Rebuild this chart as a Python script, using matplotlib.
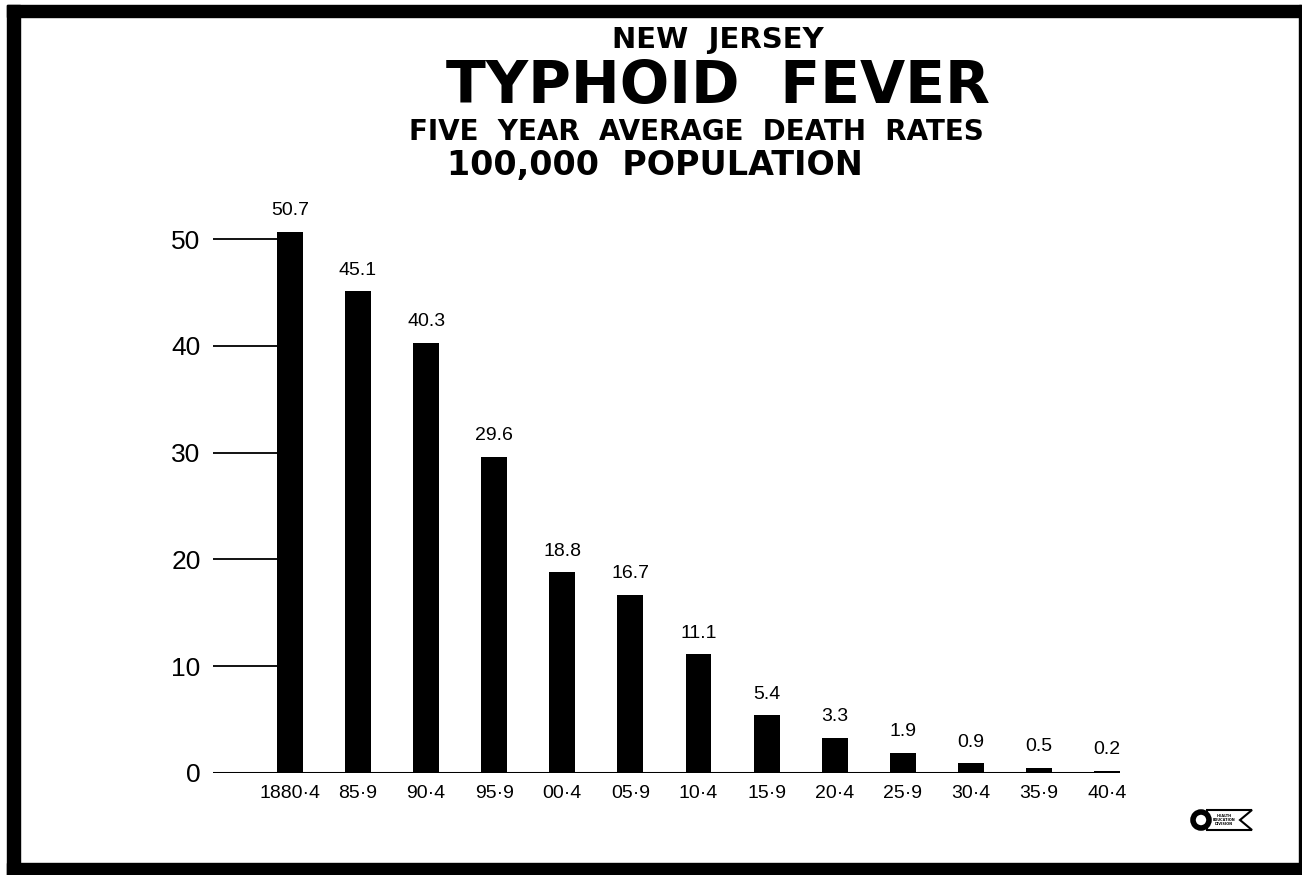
import matplotlib.pyplot as plt
from matplotlib.patches import Rectangle, Ellipse, Polygon

periods = ['1880·4', '85·9', '90·4', '95·9', '00·4', '05·9', '10·4',
           '15·9', '20·4', '25·9', '30·4', '35·9', '40·4']
rates = [50.7, 45.1, 40.3, 29.6, 18.8, 16.7, 11.1, 5.4, 3.3, 1.9, 0.9, 0.5, 0.2]
rate_labels = ['50.7', '45.1', '40.3', '29.6', '18.8', '16.7', '11.1',
               '5.4', '3.3', '1.9', '0.9', '0.5', '0.2']
yticks = [0, 10, 20, 30, 40, 50]

W, H = 1302, 875
fig = plt.figure(figsize=(W / 100, H / 100), dpi=100)
fig.patch.set_facecolor('white')


def px_rect(x0, y0, x1, y1):
    # rectangle given in image pixels (origin top-left)
    return Rectangle((x0 / W, 1 - y1 / H), (x1 - x0) / W, (y1 - y0) / H,
                     transform=fig.transFigure, color='black', zorder=10)


# frame: heavy top, left and bottom bands, thin right edge
fig.patches.append(px_rect(7, 5, 1302, 17))
fig.patches.append(px_rect(7, 5, 20, 875))
fig.patches.append(px_rect(7, 863, 1302, 875))
fig.patches.append(px_rect(1299, 5, 1301, 875))

# axes placed in pixel terms: baseline at y=773, left end of rule at x=213
left, right, bottom, top = 213, 1120, 773, 200
ax = fig.add_axes([left / W, 1 - bottom / H, (right - left) / W, (bottom - top) / H])

x = list(range(len(rates)))
width = 0.38
ax.bar(x, rates, width=width, color='black', zorder=3)
ax.set_xlim(-1.13, len(rates) - 1 + width / 2)
ax.set_ylim(0, (bottom - top) / 10.68)

# horizontal scale rules running from the labels to the first bar
for t in yticks[1:]:
    ax.plot([-1.13, -width / 2], [t, t], color='black', linewidth=1.3, zorder=2)
ax.axhline(0, color='black', linewidth=2.2, zorder=4)

for xi, r, lab in zip(x, rates, rate_labels):
    ax.annotate(lab, (xi, r), xytext=(0, 9), textcoords='offset points',
                ha='center', va='bottom', fontsize=14, family='Liberation Sans')

ax.set_yticks(yticks)
ax.set_yticklabels([str(t) for t in yticks], fontsize=19, family='Liberation Sans')
ax.tick_params(axis='y', length=0, pad=9)
ax.set_xticks(x)
ax.set_xticklabels(periods, fontsize=14, family='Liberation Sans')
ax.tick_params(axis='x', length=0, pad=9)
for s in ax.spines.values():
    s.set_visible(False)

# title block
cx = 718 / W
fig.text(cx, 1 - 40 / H, 'NEW  JERSEY', ha='center', va='center', fontsize=21,
         fontweight='bold', family='DejaVu Sans')
fig.text(cx, 1 - 86 / H, 'TYPHOID  FEVER', ha='center', va='center', fontsize=42,
         fontweight='bold', family='DejaVu Sans')
fig.text(696 / W, 1 - 132 / H, 'FIVE  YEAR  AVERAGE  DEATH  RATES', ha='center', va='center',
         fontsize=20, fontweight='bold', family='DejaVu Sans')
fig.text(655 / W, 1 - 165 / H, '100,000  POPULATION', ha='center', va='center', fontsize=24,
         fontweight='bold', family='DejaVu Sans')

# small emblem in the bottom right corner
fig.patches.append(Polygon([(1207 / W, 1 - 830 / H), (1252 / W, 1 - 830 / H),
                            (1240 / W, 1 - 820 / H), (1252 / W, 1 - 810 / H),
                            (1207 / W, 1 - 810 / H)], closed=True, transform=fig.transFigure,
                           facecolor='white', edgecolor='black', linewidth=1.5, zorder=11))
fig.patches.append(Ellipse((1201 / W, 1 - 820 / H), 16 / W, 16 / H, transform=fig.transFigure,
                           facecolor='white', edgecolor='black', linewidth=4, zorder=12))
fig.text(1224 / W, 1 - 820 / H, 'HEALTH\nEDUCATION\nDIVISION', ha='center', va='center',
         fontsize=2.5, fontweight='bold', zorder=13, linespacing=1.0)

fig.savefig('out.png', dpi=100)
